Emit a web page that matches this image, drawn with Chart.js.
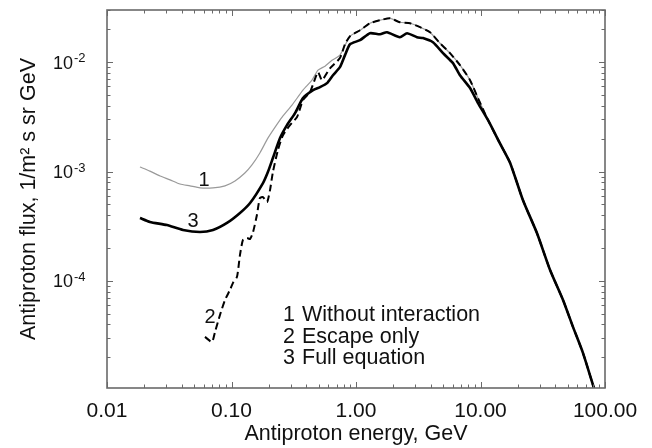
<!DOCTYPE html>
<html><head><meta charset="utf-8">
<script src="https://cdn.jsdelivr.net/npm/chart.js@4.4.0/dist/chart.umd.min.js"></script>
<style>html,body{margin:0;padding:0;background:#fff}#wrap{width:652px;height:448px}</style>
</head><body><div id="wrap"><canvas id="c" width="652" height="448"></canvas></div>
<script>
// ---- data ----
const xTickValues = [0.01, 0.1, 1, 10, 100];
const yTickExponents = [-2, -3, -4];
const seriesNames = ['Without interaction', 'Escape only', 'Full equation'];
const xTitle = 'Antiproton energy, GeV';
const yTitle = 'Antiproton flux, 1/m\u00B2 s sr GeV';

// curve 1: without interaction (thin grey)
const curve1Energy = [0.0184,0.0221,0.0267,0.0321,0.0386,0.0464,0.0558,0.0710,0.0887,0.1067,0.128,0.146,0.169,0.196,0.224,0.255,0.306,0.375,0.443,0.495,0.564,0.641,0.743,0.895,1.077,1.295,1.56,1.875,2.25,2.72,3.27,3.93,4.73,5.69,6.84,8.24,9.55,11.5];
const curve1Flux   = [0.0011,0.00101,0.00091,0.00084,0.000769,0.00074,0.00071,0.00071,0.00074,0.00082,0.00097,0.00115,0.00148,0.00202,0.00255,0.00315,0.00405,0.00555,0.00685,0.00845,0.0092,0.0104,0.0116,0.0173,0.0196,0.0227,0.0242,0.0252,0.0232,0.0227,0.0209,0.0188,0.0149,0.0121,0.0094,0.00685,0.00469,0.00295];

// curve 2: escape only (dashed)
const curve2Energy = [0.0612,0.0697,0.0737,0.0808,0.0887,0.0973,0.1028,0.1107,0.117,0.1236,0.133,0.141,0.149,0.160,0.169,0.179,0.193,0.204,0.215,0.236,0.259,0.295,0.336,0.375,0.427,0.495,0.533,0.618,0.743,0.816,0.895,1.077,1.295,1.56,1.875,2.25,2.72,3.27,3.93,4.73,5.69,6.84,8.24,9.55,11.5];
const curve2Flux   = [3.08e-5,2.77e-5,3.42e-5,4.89e-5,6.7e-5,8.3e-5,9.6e-5,0.000109,0.000173,0.000237,0.000247,0.000242,0.00028,0.000401,0.000573,0.000585,0.000526,0.00068,0.00099,0.00157,0.00215,0.00266,0.00315,0.0045,0.00532,0.0081,0.00685,0.0088,0.0109,0.0146,0.0173,0.0196,0.0227,0.0242,0.0252,0.0232,0.0227,0.0209,0.0188,0.0149,0.0121,0.0094,0.00685,0.00469,0.00295];

// curve 3: full equation (thick solid)
const curve3Energy = [0.0184,0.0221,0.0303,0.0408,0.0558,0.0710,0.0920,0.117,0.141,0.179,0.196,0.215,0.245,0.279,0.324,0.375,0.452,0.514,0.585,0.653,0.743,0.816,0.895,1.077,1.295,1.56,1.774,2.25,2.57,3.09,3.45,4.15,5.00,6.01,6.84,8.24,9.55,11.5];
const curve3Flux   = [0.000376,0.000346,0.000324,0.000292,0.00028,0.000292,0.000339,0.000418,0.000516,0.000785,0.00099,0.00133,0.00202,0.00266,0.00342,0.00469,0.00555,0.00591,0.00643,0.0076,0.0090,0.0116,0.0146,0.0159,0.0184,0.0180,0.0188,0.0169,0.0184,0.0169,0.0166,0.0152,0.0121,0.0098,0.0076,0.0058,0.00423,0.00295];

// common high-energy tail shared by all three curves
const tailEnergy = [14.3,17.3,21.9,28.4,36.2,46.0,55.3,66.5,83.2];
const tailFlux   = [0.00182,0.0012,0.00055,0.000274,0.000126,6.7e-5,3.8e-5,2.2e-5,9.7e-6];

// ---- build ----
const FONT = '"Liberation Sans", Arial, Helvetica, sans-serif';
function pts(ex, fl) {
  const a = ex.map((e, i) => ({x: e, y: fl[i]}));
  return a.concat(tailEnergy.map((e, i) => ({x: e, y: tailFlux[i]})));
}

const framePlugin = {
  id: 'frame',
  afterDatasetsDraw(chart) {
    const {ctx, chartArea: a, scales: {x, y}} = chart;
    ctx.save();
    ctx.strokeStyle = '#6a6a6a';
    ctx.lineWidth = 1;
    // x ticks (inward, bottom and top)
    for (let d = -2; d <= 2; d++) {
      for (let m = 1; m <= 9; m++) {
        const v = m * Math.pow(10, d);
        if (v < 0.01 || v > 100) continue;
        const px = Math.round(x.getPixelForValue(v)) + 0.5;
        const len = m === 1 ? 6 : 3.5;
        ctx.beginPath();
        ctx.moveTo(px, a.bottom); ctx.lineTo(px, a.bottom - len);
        ctx.moveTo(px, a.top); ctx.lineTo(px, a.top + len);
        ctx.stroke();
      }
    }
    // y ticks (inward, left and right)
    for (let d = -5; d <= -2; d++) {
      for (let m = 1; m <= 9; m++) {
        const v = m * Math.pow(10, d);
        if (v < y.min || v > y.max) continue;
        const py = Math.round(y.getPixelForValue(v)) + 0.5;
        const len = m === 1 ? 6 : 3.5;
        ctx.beginPath();
        ctx.moveTo(a.left, py); ctx.lineTo(a.left + len, py);
        ctx.moveTo(a.right, py); ctx.lineTo(a.right - len, py);
        ctx.stroke();
      }
    }
    ctx.lineWidth = 1.6;
    ctx.strokeStyle = '#6a6a6a';
    ctx.strokeRect(a.left, a.top, a.right - a.left, a.bottom - a.top);

    // y tick labels with superscript exponent
    ctx.fillStyle = '#111';
    yTickExponents.forEach(e => {
      const py = y.getPixelForValue(Math.pow(10, e));
      ctx.font = '18px ' + FONT;
      ctx.textAlign = 'right';
      ctx.textBaseline = 'middle';
      ctx.fillText('10', 73, py + 1.5);
      ctx.font = '13px ' + FONT;
      ctx.textAlign = 'left';
      ctx.textBaseline = 'alphabetic';
      ctx.fillText(String(e), 74, py);
    });

    // curve labels
    ctx.font = '20px ' + FONT;
    ctx.textAlign = 'center';
    ctx.textBaseline = 'middle';
    ctx.fillText('1', 204, 180);
    ctx.fillText('3', 193, 221);
    ctx.fillText('2', 210, 317);

    // legend text
    ctx.font = '21.5px ' + FONT;
    ctx.textAlign = 'left';
    ctx.textBaseline = 'alphabetic';
    const ly = [321, 343, 364];
    seriesNames.forEach((n, i) => {
      ctx.fillText(String(i + 1), 283, ly[i]);
      ctx.fillText(n, 302, ly[i]);
    });
    ctx.restore();
  }
};

new Chart(document.getElementById('c'), {
  type: 'line',
  data: {
    datasets: [
      {label: seriesNames[2], data: pts(curve3Energy, curve3Flux), borderColor: '#000', borderWidth: 2.6, pointRadius: 0, tension: 0.2, order: 0, borderJoinStyle: 'round'},
      {label: seriesNames[1], data: pts(curve2Energy, curve2Flux), borderColor: '#000', borderWidth: 2, borderDash: [7, 4], pointRadius: 0, tension: 0.2, order: 1},
      {label: seriesNames[0], data: pts(curve1Energy, curve1Flux), borderColor: '#9a9a9a', borderWidth: 1.2, pointRadius: 0, tension: 0.2, order: 2}
    ]
  },
  options: {
    responsive: false,
    animation: false,
    devicePixelRatio: 1,
    layout: {padding: {top: 10, right: 47, left: 0, bottom: 0}},
    plugins: {legend: {display: false}, tooltip: {enabled: false}},
    scales: {
      x: {
        type: 'logarithmic', position: 'bottom', min: 0.01, max: 100,
        grid: {display: false, drawTicks: false}, border: {display: false},
        afterBuildTicks: s => { s.ticks = xTickValues.map(v => ({value: v})); },
        afterFit: s => { s.height = 60; },
        ticks: {font: {size: 21, family: FONT}, color: '#111', padding: 11, maxRotation: 0, autoSkip: false,
          callback: v => Number(v).toFixed(2)},
        title: {display: true, text: xTitle, font: {size: 21.5, family: FONT}, color: '#111', padding: {top: 0, bottom: 1}}
      },
      y: {
        type: 'logarithmic', position: 'left', min: 1.05e-5, max: 0.03,
        grid: {display: false, drawTicks: false}, border: {display: false},
        ticks: {display: false},
        afterFit: s => { s.width = 107; },
        title: {display: true, text: yTitle, font: {size: 21.5, family: FONT}, color: '#111', padding: {top: 16, bottom: 0}}
      }
    }
  },
  plugins: [framePlugin]
});
</script></body></html>
